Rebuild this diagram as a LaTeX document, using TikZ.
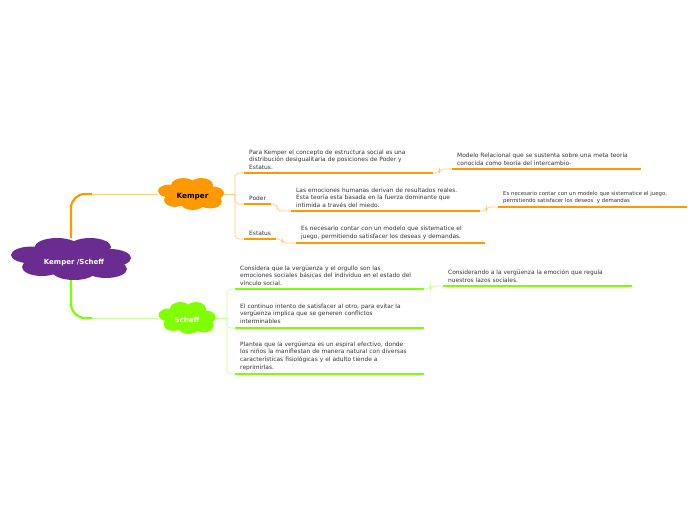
\documentclass[tikz,border=0pt]{standalone}
\usepackage{fontspec}
\setmainfont{DejaVu Sans}
\definecolor{kpurple}{HTML}{6B2C91}
\definecolor{korange}{HTML}{FF9900}
\definecolor{korangel}{HTML}{FFCC80}
\definecolor{sgreen}{HTML}{80FF00}
\definecolor{sgreenl}{HTML}{C8FF99}
\definecolor{txt}{HTML}{333333}
% cloud made of puffs, in the frame of a 120 x 42 cloud centred at the origin
\newcommand\mycloudpuffs[1]{%
  \fill[#1] (-39,-4) ellipse [x radius=21, y radius=8.5]
            (-14,-12) ellipse [x radius=22, y radius=9]
            (19,-12) ellipse [x radius=21, y radius=9]
            (39,-1) ellipse [x radius=21, y radius=9]
            (35,10) ellipse [x radius=21, y radius=9]
            (3,12) ellipse [x radius=22, y radius=9]
            (-29,8) ellipse [x radius=20, y radius=9]
            (0,0) ellipse [x radius=42, y radius=14];}
\begin{document}
\begin{tikzpicture}[x=1pt,y=-1pt,
  topic/.style={anchor=south west, inner xsep=5pt, inner ysep=3pt, align=left, text=txt,
    font=\fontsize{5.9}{7.8}\selectfont},
  wide/.style={text width=179pt},
  small/.style={font=\fontsize{5.35}{7}\selectfont},
  ulo/.style={korange, line width=2.6pt},
  ulg/.style={sgreen, line width=2.6pt},
  cono/.style={korangel, line width=0.7pt, rounded corners=4pt},
  cong/.style={sgreenl, line width=0.7pt, rounded corners=4pt},
  cloudlabel/.style={inner sep=0pt, text depth=0pt, font=\bfseries\fontsize{7}{8}\selectfont},
]
\useasboundingbox (0,0) rectangle (696,520);

% cloud bodies
\begin{scope}[shift={(71,259)}]
  \mycloudpuffs{kpurple}
\end{scope}
\begin{scope}[shift={(191,194)}, xscale=0.55, yscale=0.76]
  \mycloudpuffs{korange}
\end{scope}
\begin{scope}[shift={(187,318)}, xscale=0.475, yscale=0.76]
  \mycloudpuffs{sgreen}
\end{scope}

% cloud nodes (labels and anchors)
\node[cloudlabel, text=white, text height=11.5pt, minimum width=120pt, minimum height=42pt] (c) at (71,259) {\hspace{6pt}Kemper /Scheff};
\node[cloudlabel, text=black, text height=9pt, minimum width=66pt, minimum height=32pt,
      font=\bfseries\fontsize{7.3}{8}\selectfont] (kemper) at (191,194) {\hspace{3pt}Kemper};
\node[cloudlabel, text=white, text height=9pt, minimum width=57pt, minimum height=32pt] (scheff) at (187,318) {Scheff};

% main connectors
\coordinate (ck) at (92,194);
\coordinate (cs) at (92,318);
\draw[korange, line width=2.2pt, rounded corners=14pt] (c.north) |- (ck);
\draw[korangel, line width=0.8pt] (ck) -- (kemper.west);
\draw[sgreen, line width=2.2pt, rounded corners=14pt] (c.south) |- (cs);
\draw[sgreenl, line width=0.8pt] (cs) -- (scheff.west);

% Kemper branch
\node[topic, wide] (k1) at (244,173) {Para Kemper el concepto de estructura social es una\\ distribución desigualitaria de posiciones de Poder y\\ Estatus.};
\node[topic, wide] (k1a) at (452,169) {Modelo Relacional que se sustenta sobre una meta teoría\\ conocida como teoría del intercambio-};
\node[topic] (kp) at (244,204) {Poder};
\node[topic, wide] (kpc) at (291,211) {Las emociones humanas derivan de resultados reales.\\ Esta teoría esta basada en la fuerza dominante que\\ intimida a través del miedo.};
\node[topic, wide, small] (kpcc) at (498,207) {Es necesario contar con un modelo que sistematice el juego,\\ permitiendo satisfacer los deseos\ \ y demandas};
\node[topic] (ke) at (244,239) {Estatus};
\node[topic, wide] (kec) at (296,243) {Es necesario contar con un modelo que sistematice el\\ juego, permitiendo satisfacer los deseas y demandas.};

\coordinate (kb) at (235,194);
\draw[cono] (kemper.east) -- (kb);
\draw[cono] (kb) |- (k1.south west);
\draw[cono] (kb) |- (kp.south west);
\draw[cono] (kb) |- (ke.south west);
\draw[cono] (k1.south east) -- ++(6,0) |- (k1a.south west);
\draw[cono] (kp.south east) -- ++(6,0) |- (kpc.south west);
\draw[cono] (kpc.south east) -- ++(6,0) |- (kpcc.south west);
\draw[cono] (ke.south east) -- ++(6,0) |- (kec.south west);

\foreach \n in {k1,k1a,kp,kpc,kpcc,ke,kec}
  \draw[ulo] (\n.south west) -- (\n.south east);

% Scheff branch
\node[topic, wide] (s1) at (235,289) {Considera que la vergüenza y el orgullo son las\\ emociones sociales básicas del individuo en el estado del\\ vínculo social.};
\node[topic, wide] (s1a) at (443,286) {Considerando a la vergüenza la emoción que regula\\ nuestros lazos sociales.};
\node[topic, wide, inner ysep=4pt] (s2) at (235,328) {El continuo intento de satisfacer al otro, para evitar la\\ vergüenza implica que se generen conflictos\\ interminables};
\node[topic, wide] (s3) at (235,374) {Plantea que la vergüenza es un espiral efectivo, donde\\ los niños la manifiestan de manera natural con diversas\\ características fisiológicas y el adulto tiende a\\ reprimirlas.};

\coordinate (sb) at (227,318);
\draw[cong] (scheff.east) -- (sb);
\draw[cong] (sb) |- (s1.south west);
\draw[cong] (sb) |- (s2.south west);
\draw[cong] (sb) |- (s3.south west);
\draw[cong] (s1.south east) -- ++(6,0) |- (s1a.south west);

\foreach \n in {s1,s1a,s2,s3}
  \draw[ulg] (\n.south west) -- (\n.south east);
\end{tikzpicture}
\end{document}
